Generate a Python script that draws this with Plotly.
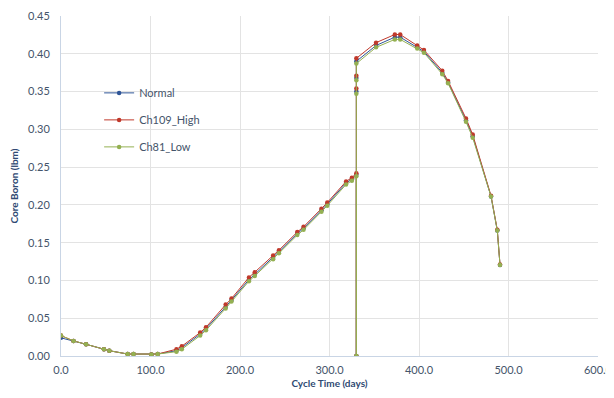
import plotly.graph_objects as go

cycle_days = [0, 14, 28, 48, 54, 74.5, 81, 101, 108, 129, 135, 155.5, 162, 184, 190.5,
              210, 216.5, 237, 243.5, 264, 271, 291, 297.5, 318.5, 325, 330, 330, 330,
              330, 330, 352, 373, 379, 398, 405.5, 426, 432.5, 452.5, 460, 480.5, 487.5, 490.5]

normal = [0.024, 0.020, 0.0155, 0.009, 0.007, 0.0026, 0.0026, 0.002, 0.0026, 0.007, 0.011,
          0.029, 0.036, 0.065, 0.074, 0.101, 0.108, 0.130, 0.138, 0.162, 0.169, 0.193, 0.201,
          0.229, 0.234, 0.240, 0.0, 0.350, 0.368, 0.390, 0.411, 0.422, 0.422, 0.409, 0.403,
          0.375, 0.362, 0.312, 0.291, 0.211, 0.166, 0.1205]

ch109_high = [0.027, 0.020, 0.0155, 0.009, 0.007, 0.0026, 0.0026, 0.002, 0.0026, 0.009, 0.013,
              0.031, 0.038, 0.068, 0.076, 0.104, 0.111, 0.133, 0.140, 0.164, 0.171, 0.195, 0.203,
              0.231, 0.236, 0.242, 0.0, 0.354, 0.371, 0.394, 0.4147, 0.4255, 0.4255, 0.411, 0.405,
              0.3776, 0.364, 0.3145, 0.293, 0.212, 0.167, 0.121]

ch81_low = [0.027, 0.020, 0.0155, 0.009, 0.007, 0.0026, 0.0026, 0.002, 0.0026, 0.0057, 0.009,
            0.027, 0.034, 0.063, 0.072, 0.099, 0.106, 0.128, 0.136, 0.160, 0.167, 0.191, 0.199,
            0.227, 0.232, 0.238, 0.0, 0.347, 0.365, 0.387, 0.4085, 0.419, 0.419, 0.407, 0.4015,
            0.373, 0.361, 0.310, 0.289, 0.211, 0.166, 0.1205]

series = [("Normal", normal, "#2F5597"),
          ("Ch109_High", ch109_high, "#C0392B"),
          ("Ch81_Low", ch81_low, "#94B052")]

fig = go.Figure()
for i, (name, vals, col) in enumerate(series):
    fig.add_trace(go.Scatter(
        x=cycle_days, y=vals, name=name, mode="lines+markers",
        line=dict(color=col, width=1),
        marker=dict(color=col, size=4.5),
        legendgroup=f"g{i}",
    ))

tick_color = "#44546A"
fig.update_layout(
    width=606, height=390,
    margin=dict(l=53, r=16, t=8, b=42, autoexpand=False),
    paper_bgcolor="white", plot_bgcolor="white",
    font=dict(family="Lato", size=11, color=tick_color),
    legend=dict(x=0.071, y=0.8165, xanchor="left", yanchor="top",
                bgcolor="rgba(0,0,0,0)", tracegroupgap=8, itemwidth=30,
                font=dict(size=11, color=tick_color)),
    showlegend=True,
)
fig.update_xaxes(range=[0, 600], dtick=100, tickformat=".1f", automargin=False,
                 showgrid=True, gridcolor="#E3E3E3", gridwidth=1,
                 showline=True, linecolor="#C9D5E5", linewidth=1,
                 zeroline=False, ticks="", ticklabelstandoff=4,
                 title=dict(text="<b>Cycle Time (days)</b>", font=dict(size=10, color="#2F4A73"), standoff=4))
fig.update_yaxes(range=[0, 0.45], dtick=0.05, tickformat=".2f", automargin=False,
                 showgrid=True, gridcolor="#E3E3E3", gridwidth=1,
                 showline=True, linecolor="#C9D5E5", linewidth=1,
                 zeroline=False, ticks="", ticklabelstandoff=8,
                 title=dict(text="<b>Core Boron (lbm)</b>", font=dict(size=10, color="#2F4A73"), standoff=8))

fig.write_html("out.html")
